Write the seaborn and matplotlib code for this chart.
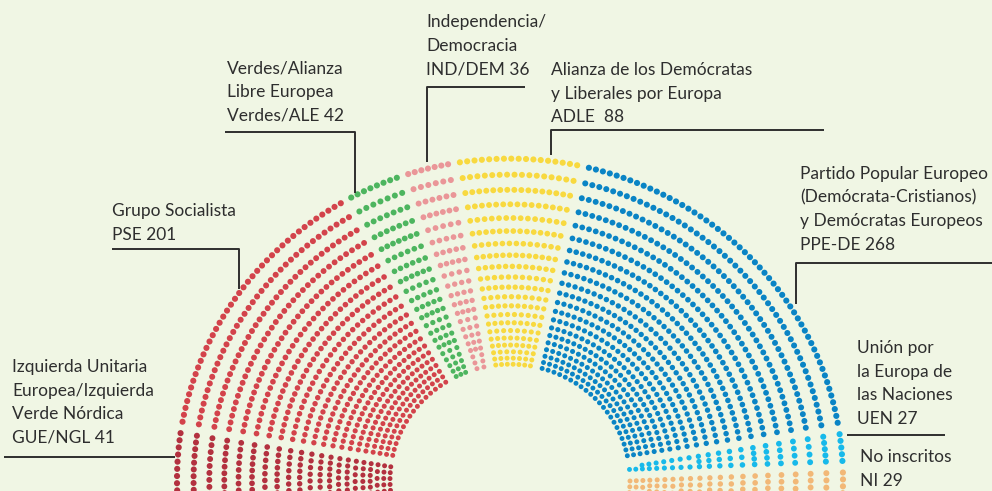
import numpy as np
import pandas as pd
import matplotlib
matplotlib.use('Agg')
import matplotlib.pyplot as plt
import seaborn as sns

# political groups, left to right around the hemicycle
groups = ['GUE/NGL', 'PSE', 'Verdes/ALE', 'IND/DEM', 'ADLE', 'PPE-DE', 'UEN', 'NI']
seats = [41, 201, 42, 36, 88, 268, 27, 29]
colors = ['#b3313f', '#d3434b', '#4db55f', '#ea9698', '#f8d93f', '#0a84c5', '#17b9ea', '#f2b877']
labels = [
    ['Izquierda Unitaria', 'Europea/Izquierda', 'Verde Nórdica', 'GUE/NGL 41'],
    ['Grupo Socialista', 'PSE 201'],
    ['Verdes/Alianza', 'Libre Europea', 'Verdes/ALE 42'],
    ['Independencia/', 'Democracia', 'IND/DEM 36'],
    ['Alianza de los Demócratas', 'y Liberales por Europa', 'ADLE  88'],
    ['Partido Popular Europeo', '(Demócrata-Cristianos)', 'y Demócratas Europeos', 'PPE-DE 268'],
    ['Unión por', 'la Europa de', 'las Naciones', 'UEN 27'],
    ['No inscritos', 'NI 29'],
]

# layout (pixels)
BG = '#f0f6e4'
INK = '#2e2e2e'
CX, CY = 510, 480
R_IN, R_OUT, N_ROWS = 120, 333, 21
YSCALE = 0.965
A_START, A_END = 181.0, -5.0
EDGE_EXTRA = 7.0
GAP = 6.0

text_pos = [(12, 372), (112, 216), (227, 73), (426, 27), (551, 75), (800, 179), (857, 353), (860, 462)]
leaders = [
    [(4, 457), (175, 457)],
    [(112, 249), (239, 249), (239, 289)],
    [(225, 132), (355, 132), (355, 193)],
    [(525, 87), (427, 87), (427, 162)],
    [(824, 130), (551, 130), (551, 155)],
    [(992, 263), (796, 263), (796, 304)],
    [(847, 435), (945, 435)],
    [],
]
LINE_H = 23.6


def build_dots():
    radii = R_IN * (R_OUT / R_IN) ** (np.arange(N_ROWS) / (N_ROWS - 1))
    cum = np.concatenate([[0], np.cumsum(seats)])
    span = A_START - A_END
    parts = []
    for i, g in enumerate(groups):
        a_hi = np.radians(A_START - cum[i] / cum[-1] * span)
        a_lo = np.radians(A_START - cum[i + 1] / cum[-1] * span)
        if i == 0:
            a_hi += np.radians(EDGE_EXTRA)
        if i == len(groups) - 1:
            a_lo -= np.radians(EDGE_EXTRA)
        for r in radii:
            t = (r - R_IN) / (R_OUT - R_IN)
            step = 6.3 + 1.0 * t
            lo = a_lo + GAP / r
            hi = a_hi - GAP / r
            n = int(round((hi - lo) * r / step)) + 1
            ang = np.linspace(lo, hi, n)
            d = 4.9 + 1.2 * t
            parts.append(pd.DataFrame({
                'x': CX + r * np.cos(ang),
                'y': CY - r * np.sin(ang) * YSCALE,
                'group': g,
                's': (0.72 * d) ** 2,
            }))
    return pd.concat(parts, ignore_index=True)


def main():
    sns.set_style('white')
    plt.rcParams['font.family'] = ['Lato', 'DejaVu Sans']

    df = build_dots()

    fig = plt.figure(figsize=(9.92, 4.91), dpi=100)
    fig.patch.set_facecolor(BG)
    ax = fig.add_axes([0, 0, 1, 1])
    ax.set_facecolor(BG)

    sns.scatterplot(data=df, x='x', y='y', hue='group', palette=dict(zip(groups, colors)),
                    size='s', sizes=(df['s'].min(), df['s'].max()), linewidth=0,
                    legend=False, ax=ax)

    for lines, (tx, ty), path in zip(labels, text_pos, leaders):
        for j, line in enumerate(lines):
            ax.text(tx, ty + j * LINE_H, line, fontsize=12.5, color=INK, va='baseline', ha='left')
        if path:
            xs, ys = zip(*path)
            ax.plot(xs, ys, color=INK, lw=1.4, solid_capstyle='butt')

    ax.set_xlim(0, 992)
    ax.set_ylim(491, 0)
    ax.axis('off')
    fig.savefig('out.png', dpi=100, facecolor=BG)
    plt.close(fig)


if __name__ == '__main__':
    main()
